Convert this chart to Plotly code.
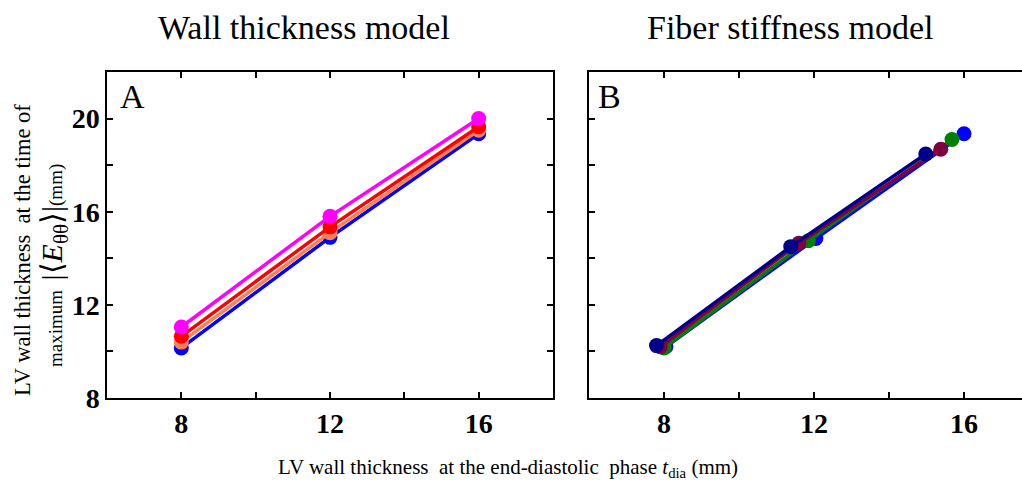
import plotly.graph_objects as go

# Panel A: wall thickness model
a_x = [8, 12, 16]
a_blue = [10.15, 14.9, 19.35]
a_orange = [10.4, 15.1, 19.5]
a_red = [10.65, 15.35, 19.65]
a_magenta = [11.05, 15.8, 20.0]

# Panel B: fiber stiffness model
b_blue_x = [8.05, 12.05, 16.0]
b_blue_y = [10.2, 14.85, 19.35]
b_green_x = [8.0, 11.85, 15.68]
b_green_y = [10.15, 14.75, 19.1]
b_maroon_x = [7.9, 11.6, 15.38]
b_maroon_y = [10.2, 14.65, 18.68]
b_navy_x = [7.8, 11.38, 14.98]
b_navy_y = [10.25, 14.5, 18.48]

y_tickvals = [8, 10, 12, 14, 16, 18, 20]
y_ticktext = ["8", "", "12", "", "16", "", "20"]
x_tickvals = [8, 10, 12, 14, 16]
x_ticktext = ["8", "", "12", "", "16"]

SERIF = "Liberation Serif"

fig = go.Figure()

def add(x, y, color, xa, ya):
    fig.add_trace(go.Scatter(
        x=x, y=y, mode="lines+markers", xaxis=xa, yaxis=ya,
        line=dict(color=color, width=3.5),
        marker=dict(color=color, size=15, symbol="circle"),
        showlegend=False, cliponaxis=False))

add(a_x, a_blue, "#0000FF", "x", "y")
add(a_x, a_orange, "#FF7F50", "x", "y")
add(a_x, a_red, "#FF0000", "x", "y")
add(a_x, a_magenta, "#FF00FF", "x", "y")

add(b_blue_x, b_blue_y, "#0000FF", "x2", "y2")
add(b_green_x, b_green_y, "#008000", "x2", "y2")
add(b_maroon_x, b_maroon_y, "#800040", "x2", "y2")
add(b_navy_x, b_navy_y, "#00008B", "x2", "y2")

W, H = 1022, 482
L, T, B, R = 107, 72, 84, 0
pw = W - L - R
ph = H - T - B
axA_end = (553 - L) / pw
axB_start = (589 - L) / pw
b_range_end = 6 + (W - 589) / 37.5

common_x = dict(
    showgrid=False, zeroline=False, showline=True, linecolor="black", linewidth=1.5,
    ticks="inside", ticklen=6, tickcolor="black", tickwidth=1.5,
    tickvals=x_tickvals, ticktext=x_ticktext, mirror="ticks",
    tickfont=dict(family=SERIF, size=28, color="black", weight="bold"),
)
common_y = dict(
    showgrid=False, zeroline=False, showline=True, linecolor="black", linewidth=1.5,
    ticks="inside", ticklen=6, tickcolor="black", tickwidth=1.5,
    tickvals=y_tickvals, range=[8, 22],
    tickfont=dict(family=SERIF, size=28, color="black", weight="bold"),
)

fig.update_layout(
    width=W, height=H,
    margin=dict(l=L, r=R, t=T, b=B),
    paper_bgcolor="white", plot_bgcolor="white",
    xaxis=dict(domain=[0, axA_end], range=[6, 18], anchor="y", **common_x),
    yaxis=dict(domain=[0, 1], anchor="x", ticktext=y_ticktext, mirror="ticks", **common_y),
    xaxis2=dict(domain=[axB_start, 1], range=[6, b_range_end], anchor="y2", **common_x),
    yaxis2=dict(domain=[0, 1], anchor="x2", ticktext=[""] * len(y_tickvals), mirror=False, **common_y),
)


def py(pix):
    return (H - B - pix) / ph


def px(pix):
    return (pix - L) / pw


fig.add_annotation(text="Wall thickness model", xref="paper", yref="paper",
                   x=px(304), y=py(28), showarrow=False, xanchor="center", yanchor="middle",
                   font=dict(family=SERIF, size=34, color="black"))
fig.add_annotation(text="Fiber stiffness model", xref="paper", yref="paper",
                   x=px(790), y=py(28), showarrow=False, xanchor="center", yanchor="middle",
                   font=dict(family=SERIF, size=34, color="black"))

fig.add_annotation(text="A", xref="paper", yref="paper", x=px(118), y=py(96),
                   showarrow=False, xanchor="left", yanchor="middle",
                   font=dict(family=SERIF, size=34, color="black"))
fig.add_annotation(text="B", xref="paper", yref="paper", x=px(596), y=py(96),
                   showarrow=False, xanchor="left", yanchor="middle",
                   font=dict(family=SERIF, size=34, color="black"))

# y-axis title (two rotated lines)
fig.add_annotation(text="LV wall thickness  at the time of", xref="paper", yref="paper",
                   x=px(22), y=py(250), textangle=-90, showarrow=False,
                   xanchor="center", yanchor="middle",
                   font=dict(family=SERIF, size=22.5, color="black"))
fig.add_annotation(text="maximum  <span style='font-size:30px'>|⟨<i>E</i><sub>θθ</sub>⟩|</span>(mm)",
                   xref="paper", yref="paper",
                   x=px(54), y=py(266), textangle=-90, showarrow=False,
                   xanchor="center", yanchor="middle",
                   font=dict(family=SERIF, size=19, color="black"))

# x-axis title
fig.add_annotation(text="LV wall thickness  at the end-diastolic  phase <i>t</i><sub>dia</sub> (mm)",
                   xref="paper", yref="paper", x=px(508), y=py(468), showarrow=False,
                   xanchor="center", yanchor="middle",
                   font=dict(family=SERIF, size=21, color="black"))

fig.write_html("out.html")
